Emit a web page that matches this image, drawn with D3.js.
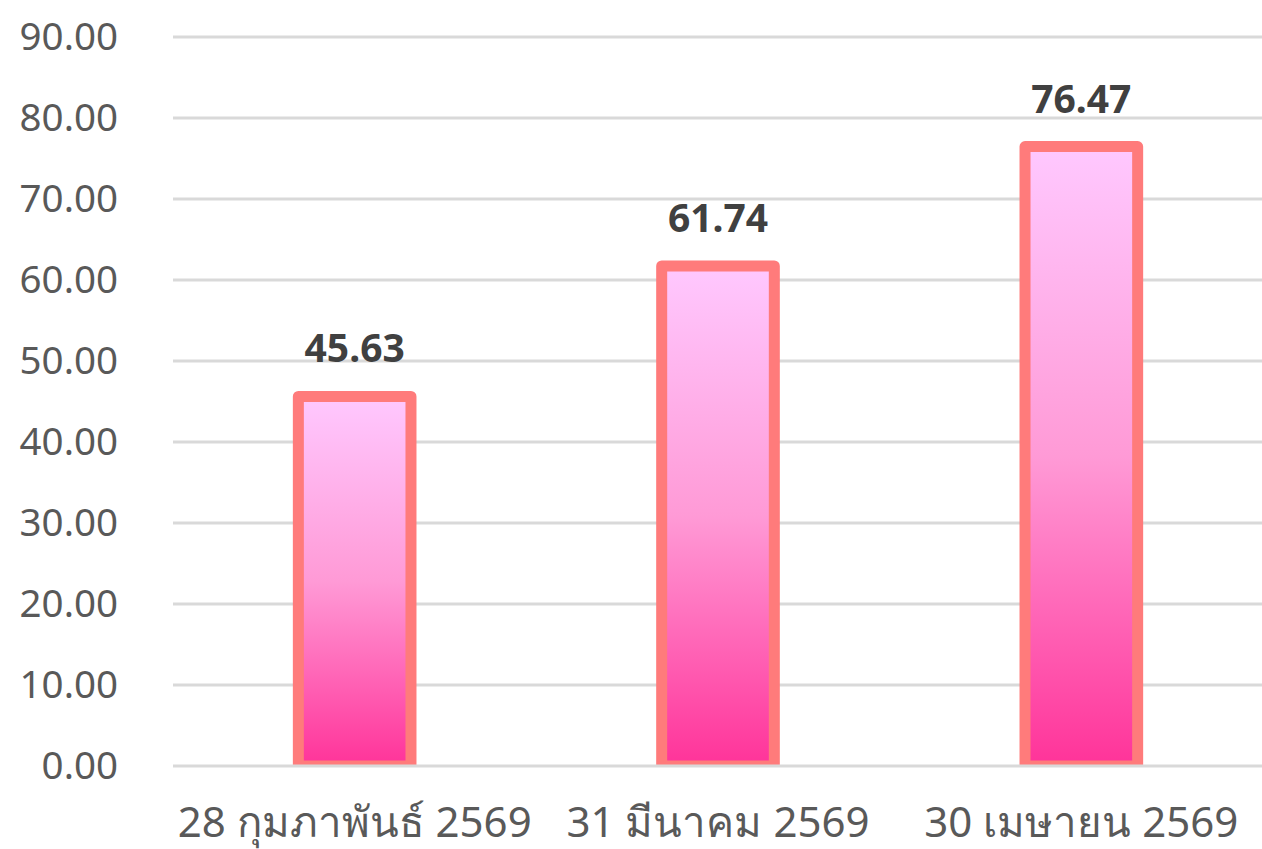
<!DOCTYPE html>
<html>
<head>
<meta charset="utf-8">
<script src="https://cdn.jsdelivr.net/npm/d3@7"></script>
<style>
  body { margin: 0; background: #fff; }
  text { font-family: "Noto Sans", "DejaVu Sans", sans-serif; }
</style>
</head>
<body>
<div class="chart"></div>
<script>
// data
var categories = ["28 กุมภาพันธ์ 2569", "31 มีนาคม 2569", "30 เมษายน 2569"];
var values = [45.63, 61.74, 76.47];
var yTicks = [0, 10, 20, 30, 40, 50, 60, 70, 80, 90];

var svgWidth = 1262;
var svgHeight = 849;

var margin = { top: 37, right: 0, bottom: 83, left: 173 };
var width = 1263 - margin.left;
var height = 766 - margin.top;

var svg = d3.select(".chart")
  .append("svg")
  .attr("width", svgWidth)
  .attr("height", svgHeight);

var defs = svg.append("defs");
var grad = defs.append("linearGradient")
  .attr("id", "barGrad")
  .attr("x1", 0).attr("y1", 0)
  .attr("x2", 0).attr("y2", 1);
grad.append("stop").attr("offset", "0%").attr("stop-color", "#ffc8ff");
grad.append("stop").attr("offset", "50%").attr("stop-color", "#ff9ad6");
grad.append("stop").attr("offset", "100%").attr("stop-color", "#ff3399");

defs.append("clipPath").attr("id", "plotClip")
  .append("rect")
  .attr("x", -10).attr("y", -40)
  .attr("width", width + 20).attr("height", height + 40);

var chartGroup = svg.append("g")
  .attr("transform", `translate(${margin.left}, ${margin.top})`);

var xScale = d3.scaleBand()
  .domain(categories)
  .range([0, width])
  .paddingInner(0.69)
  .paddingOuter(0.345);

var yScale = d3.scaleLinear()
  .domain([0, 90])
  .range([height, 0]);

// gridlines
chartGroup.append("g")
  .selectAll("line")
  .data(yTicks.filter(d => d > 0))
  .enter()
  .append("line")
  .attr("x1", 0)
  .attr("x2", width)
  .attr("y1", d => yScale(d))
  .attr("y2", d => yScale(d))
  .style("stroke", "#d9d9d9")
  .style("stroke-width", 3);

// y axis labels
var leftAxis = d3.axisLeft(yScale)
  .tickValues(yTicks)
  .tickFormat(d3.format(".2f"))
  .tickSize(0)
  .tickPadding(55);

var yAxisG = chartGroup.append("g").call(leftAxis);
yAxisG.select(".domain").remove();
yAxisG.selectAll("text")
  .style("font-size", "38.5px")
  .style("fill", "#595959");

// bars
var barsGroup = chartGroup.append("g").attr("clip-path", "url(#plotClip)");
barsGroup.selectAll("rect")
  .data(values)
  .enter()
  .append("rect")
  .attr("x", (d, i) => xScale(categories[i]))
  .attr("y", d => yScale(d))
  .attr("width", xScale.bandwidth())
  .attr("height", d => yScale(0) - yScale(d))
  .attr("fill", "url(#barGrad)")
  .style("stroke", "#ff7b7b")
  .style("stroke-width", 11)
  .style("stroke-linejoin", "round");

// baseline
chartGroup.append("line")
  .attr("x1", 0)
  .attr("x2", width)
  .attr("y1", yScale(0))
  .attr("y2", yScale(0))
  .style("stroke", "#d9d9d9")
  .style("stroke-width", 3);

// value labels
chartGroup.selectAll(".valueLabel")
  .data(values)
  .enter()
  .append("text")
  .attr("class", "valueLabel")
  .attr("x", (d, i) => xScale(categories[i]) + xScale.bandwidth() / 2)
  .attr("y", d => yScale(d) - 34)
  .style("text-anchor", "middle")
  .style("font-size", "39px")
  .style("font-weight", "bold")
  .style("fill", "#404040")
  .text(d => d.toFixed(2));

// category labels
var bottomAxis = d3.axisBottom(xScale).tickSize(0).tickPadding(41);
var xAxisG = chartGroup.append("g")
  .attr("transform", `translate(0, ${height})`)
  .call(bottomAxis);
xAxisG.select(".domain").remove();
xAxisG.selectAll("text")
  .style("font-size", "42px")
  .style("fill", "#595959");
</script>
</body>
</html>
